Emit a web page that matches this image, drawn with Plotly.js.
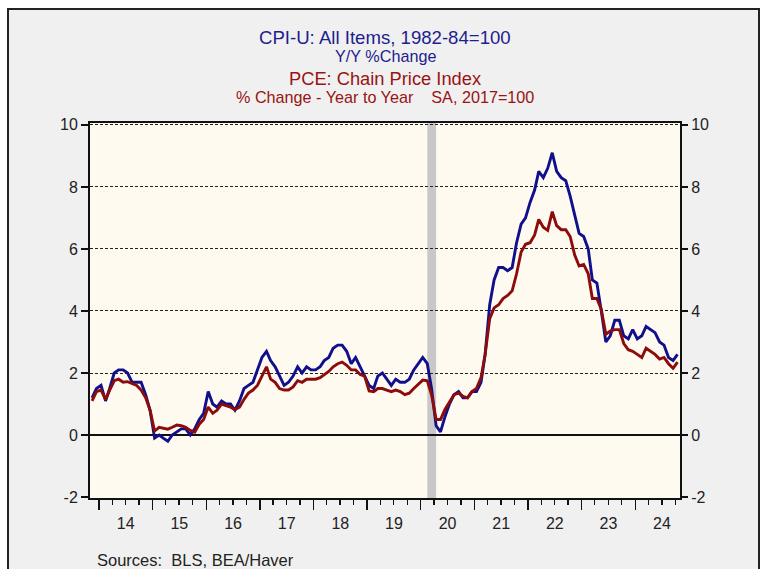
<!DOCTYPE html>
<html>
<head>
<meta charset="utf-8">
<script src="https://cdn.plot.ly/plotly-3.0.1.min.js"></script>
<style>
html,body{margin:0;padding:0;background:#ffffff;overflow:hidden;width:763px;height:569px;}
#frame{position:absolute;left:7px;top:8px;width:749px;height:600px;border:2px solid #222;background:#f0f0f0;}
#chart{position:absolute;left:0;top:0;width:749px;height:570px;}
</style>
</head>
<body>
<div id="frame"><div id="chart"></div></div>
<script>
// Monthly observations, Nov 2013 .. Oct 2024
const startYear = 2013, startMonth = 11;
const cpiYoY = [
  1.2, 1.5,
  1.6, 1.1, 1.5, 2.0, 2.1, 2.1, 2.0, 1.7, 1.7, 1.7, 1.3, 0.8,
  -0.1, 0.0, -0.1, -0.2, 0.0, 0.1, 0.2, 0.2, 0.0, 0.2, 0.5, 0.7,
  1.4, 1.0, 0.9, 1.1, 1.0, 1.0, 0.8, 1.1, 1.5, 1.6, 1.7, 2.1,
  2.5, 2.7, 2.4, 2.2, 1.9, 1.6, 1.7, 1.9, 2.2, 2.0, 2.2, 2.1,
  2.1, 2.2, 2.4, 2.5, 2.8, 2.9, 2.9, 2.7, 2.3, 2.5, 2.2, 1.9,
  1.6, 1.5, 1.9, 2.0, 1.8, 1.6, 1.8, 1.7, 1.7, 1.8, 2.1, 2.3,
  2.5, 2.3, 1.5, 0.3, 0.1, 0.6, 1.0, 1.3, 1.4, 1.2, 1.2, 1.4,
  1.4, 1.7, 2.6, 4.2, 5.0, 5.4, 5.4, 5.3, 5.4, 6.2, 6.8, 7.0,
  7.5, 7.9, 8.5, 8.3, 8.6, 9.1, 8.5, 8.3, 8.2, 7.7, 7.1, 6.5,
  6.4, 6.0, 5.0, 4.9, 4.0, 3.0, 3.2, 3.7, 3.7, 3.2, 3.1, 3.4,
  3.1, 3.2, 3.5, 3.4, 3.3, 3.0, 2.9, 2.5, 2.4, 2.6
];
const pceYoY = [
  1.1, 1.4,
  1.45, 1.15, 1.45, 1.75, 1.8, 1.7, 1.72, 1.65, 1.6, 1.45, 1.2, 0.8,
  0.13, 0.25, 0.22, 0.19, 0.25, 0.32, 0.3, 0.25, 0.15, 0.09, 0.35, 0.5,
  0.9, 0.7, 0.8, 1.0, 0.95, 0.9, 0.82, 0.9, 1.15, 1.35, 1.45, 1.6,
  1.9, 2.2, 1.8, 1.7, 1.5, 1.45, 1.45, 1.55, 1.75, 1.7, 1.8, 1.8,
  1.8, 1.85, 1.95, 2.05, 2.2, 2.3, 2.35, 2.25, 2.1, 2.1, 1.95, 1.9,
  1.42, 1.4, 1.5, 1.5, 1.45, 1.4, 1.45, 1.4, 1.3, 1.35, 1.5, 1.65,
  1.77, 1.75, 1.3, 0.5, 0.5, 0.83, 1.05, 1.3, 1.35, 1.25, 1.2, 1.4,
  1.5, 1.85, 2.6, 3.75, 4.1, 4.2, 4.4, 4.5, 4.65, 5.2, 5.9, 6.15,
  6.2, 6.45, 6.95, 6.7, 6.6, 7.2, 6.75, 6.62, 6.62, 6.4, 5.8, 5.45,
  5.5, 5.2, 4.4, 4.4, 4.05, 3.25, 3.35, 3.4, 3.4, 2.95, 2.75, 2.7,
  2.6, 2.5, 2.8, 2.7, 2.6, 2.45, 2.5, 2.3, 2.15, 2.35
];
const yTicks = [-2, 0, 2, 4, 6, 8, 10];
const recession = ['2020-02-15', '2020-04-15'];
const xRange = ['2013-11-01', '2024-11-01'];

const titleLines = [
  'CPI-U: All Items, 1982-84=100',
  'Y/Y %Change',
  'PCE: Chain Price Index',
  '% Change - Year to Year    SA, 2017=100'
];
const sourceNote = 'Sources:  BLS, BEA/Haver';

const months = [];
for (let i = 0; i < cpiYoY.length; i++) {
  const m0 = startMonth - 1 + i;
  const y = startYear + Math.floor(m0 / 12);
  const m = (m0 % 12) + 1;
  months.push(y + '-' + String(m).padStart(2, '0') + '-15');
}

const BLUE = '#10108c', RED = '#8c0c0c';
const TBLUE = '#1e1e8e', TRED = '#981414';
const FONT = '"Liberation Sans", Arial, sans-serif';

const traces = [
  {x: months, y: pceYoY, type: 'scatter', mode: 'lines', line: {color: RED, width: 2.9}, yaxis: 'y2', hoverinfo: 'skip'},
  {x: months, y: cpiYoY, type: 'scatter', mode: 'lines', line: {color: BLUE, width: 2.9}, yaxis: 'y', hoverinfo: 'skip'}
];

const yr = [-2.03, 10.06];
const layout = {
  width: 749, height: 570,
  margin: {l: 81, r: 78, t: 113, b: 82},
  paper_bgcolor: '#f0f0f0',
  plot_bgcolor: '#fffaf0',
  showlegend: false,
  font: {family: FONT, size: 16, color: '#222'},
  xaxis: {
    type: 'date', range: xRange,
    tick0: '2014-01-01', dtick: 'M12', tickformat: '%y', ticklabelmode: 'period',
    ticks: 'outside', ticklen: 10, tickwidth: 1.3, tickcolor: '#111',
    minor: {dtick: 'M3', tick0: '2014-01-01', ticks: 'outside', ticklen: 5, tickwidth: 1.3, tickcolor: '#111', showgrid: false},
    showgrid: false, zeroline: false,
    showline: true, linecolor: '#111', linewidth: 2, mirror: true,
    tickfont: {size: 16, color: '#222'}
  },
  yaxis: {
    range: yr, tickvals: yTicks, ticktext: yTicks.map(String),
    ticks: 'outside', ticklen: 7, tickwidth: 1.3, tickcolor: '#111',
    showgrid: true, gridcolor: '#222', gridwidth: 1, griddash: '3px,2px',
    zeroline: true, zerolinecolor: '#111', zerolinewidth: 1.3,
    showline: true, linecolor: '#111', linewidth: 2, mirror: true,
    tickfont: {size: 16, color: '#222'}
  },
  yaxis2: {
    range: yr, overlaying: 'y', side: 'right', tickvals: yTicks, ticktext: yTicks.map(String),
    ticks: 'outside', ticklen: 7, tickwidth: 1.3, tickcolor: '#111',
    showgrid: false, zeroline: false, showline: false,
    tickfont: {size: 16, color: '#222'}
  },
  shapes: [
    {type: 'rect', xref: 'x', yref: 'paper', x0: recession[0], x1: recession[1], y0: 0, y1: 1,
     fillcolor: '#c8c8c8', line: {width: 0}, layer: 'below'}
  ],
  annotations: [
    {text: titleLines[0], xref: 'paper', yref: 'paper', x: 0.5, y: 1.228, showarrow: false, xanchor: 'center', yanchor: 'middle', font: {size: 18.6, color: TBLUE}},
    {text: titleLines[1], xref: 'paper', yref: 'paper', x: 0.5, y: 1.1775, showarrow: false, xanchor: 'center', yanchor: 'middle', font: {size: 16.2, color: TBLUE}},
    {text: titleLines[2], xref: 'paper', yref: 'paper', x: 0.5, y: 1.118, showarrow: false, xanchor: 'center', yanchor: 'middle', font: {size: 18.3, color: TRED}},
    {text: titleLines[3].replace(/  /g, '&nbsp;&nbsp;'), xref: 'paper', yref: 'paper', x: 0.5, y: 1.07, showarrow: false, xanchor: 'center', yanchor: 'middle', font: {size: 16.2, color: TRED}},
    {text: sourceNote.replace(/  /g, '&nbsp;&nbsp;'), xref: 'paper', yref: 'paper', x: 0.0085, y: -0.165, showarrow: false, xanchor: 'left', yanchor: 'middle', font: {size: 16.5, color: '#222'}}
  ]
};

Plotly.newPlot('chart', traces, layout, {staticPlot: true, displayModeBar: false});
</script>
</body>
</html>
